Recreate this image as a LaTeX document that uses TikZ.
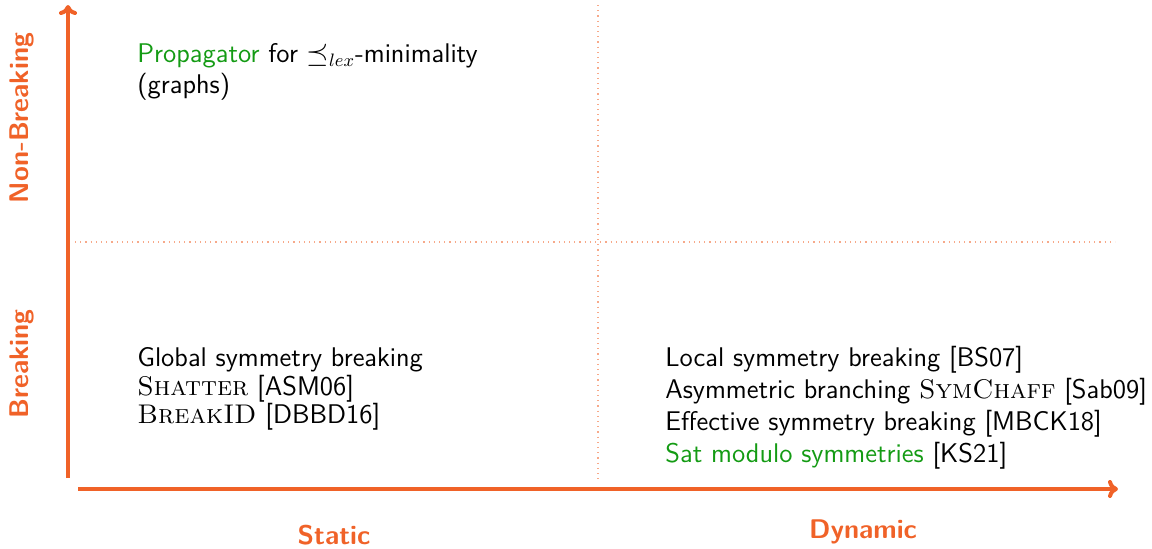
\documentclass[tikz,border=0pt]{standalone}
\usepackage{fontspec}
\usetikzlibrary{arrows.meta}
\definecolor{axisorange}{RGB}{240,98,40}
\definecolor{hlgreen}{RGB}{20,155,20}
\begin{document}
\begin{tikzpicture}[x=0.5pt,y=-0.5pt,
  axis/.style={draw=axisorange,line width=2pt,-{To[length=5pt,width=9pt]}},
  gridline/.style={draw=axisorange!55,dotted,line width=0.6pt},
  axislabel/.style={text=axisorange,font=\sffamily\bfseries\fontsize{13.5}{15}\selectfont,inner sep=0pt},
  entry/.style={font=\sffamily\fontsize{13.5}{15.5}\selectfont,anchor=base west,inner sep=0pt}]
\useasboundingbox (0,0) rectangle (1152,548);

% axes
\coordinate (yfoot) at (68,478);
\coordinate (ytip) at (68,5);
\coordinate (xfoot) at (78,489);
\coordinate (xtip) at (1118,489);
\draw[axis] (yfoot) -- (ytip);
\draw[axis] (xfoot) -- (xtip);

% quadrant separators
\coordinate (hl) at (75,242);
\coordinate (hr) at (1115,242);
\coordinate (vt) at (598,5);
\coordinate (vb) at (598,480);
\draw[gridline] (hl) -- (hr);
\draw[gridline] (vt) -- (vb);

% axis labels
\node[axislabel,rotate=90] (nonbreak) at (22,118) {Non-Breaking};
\node[axislabel,rotate=90] (break) at (22,364) {Breaking};
\node[axislabel] (static) at (334,535) {Static};
\node[axislabel] (dynamic) at (863,532) {Dynamic};

% non-breaking, static
\node[entry] (prop1) at (137,62) {\textcolor{hlgreen}{Propagator} for $\preceq_{lex}$-minimality};
\node[entry] (prop2) at (137,93) {(graphs)};

% breaking, static
\node[entry] (gsb) at (137,366) {Global symmetry breaking};
\node[entry] (shatter) at (137,395) {{\rmfamily\textsc{Shatter}} [ASM06]};
\node[entry] (breakid) at (137,423) {{\rmfamily\textsc{BreakID}} [DBBD16]};

% breaking, dynamic
\node[entry] (lsb) at (665,366) {Local symmetry breaking [BS07]};
\node[entry] (asb) at (665,398) {Asymmetric branching {\rmfamily\textsc{SymChaff}} [Sab09]};
\node[entry] (esb) at (665,430) {Effective symmetry breaking [MBCK18]};
\node[entry] (sms) at (665,462) {\textcolor{hlgreen}{Sat modulo symmetries} [KS21]};
\end{tikzpicture}
\end{document}
